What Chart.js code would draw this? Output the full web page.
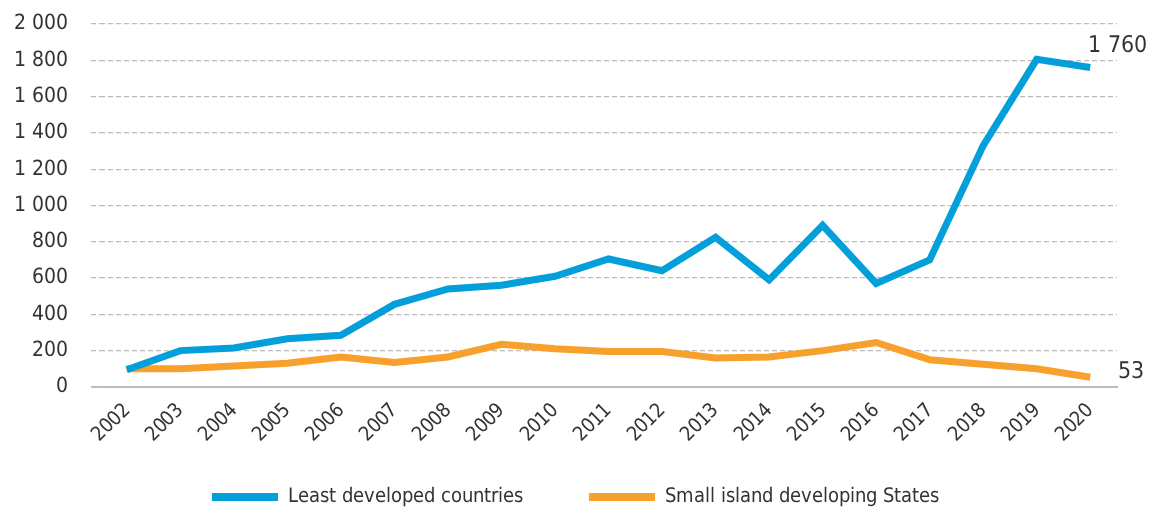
<!DOCTYPE html>
<html><head><meta charset="utf-8">
<script src="https://cdn.jsdelivr.net/npm/chart.js"></script>
<style>
@font-face{font-family:'CondX';src:local('Liberation Sans Narrow'),local('LiberationSansNarrow-Regular'),local('DejaVu Sans Condensed'),local('DejaVuSansCondensed');}
html,body{margin:0;padding:0;background:#fff}#wrap{width:1151px;height:511px}
</style>
</head><body><div id="wrap"><canvas id="c"></canvas></div>
<script>
const years = ["2002","2003","2004","2005","2006","2007","2008","2009","2010","2011","2012","2013","2014","2015","2016","2017","2018","2019","2020"];
const ldc = [95,200,215,265,285,455,540,560,610,705,640,825,590,890,570,700,1330,1805,1760];
const sids = [100,100,115,130,165,135,165,235,210,195,195,160,165,200,245,150,125,100,53];
const yTicks = [0,200,400,600,800,1000,1200,1400,1600,1800,2000];
const FONT = "CondX, sans-serif";
const fmt = v => String(v).replace(/\B(?=(\d{3})+(?!\d))/g, " ");
const endLabels = {
  id:'endLabels',
  afterLayout(chart){
    if (chart.legend) { chart.legend.top += 6; chart.legend.bottom += 6; }
  },
  afterDatasetsDraw(chart){
    const ctx = chart.ctx;
    ctx.save();
    const x = chart.scales.x, y = chart.scales.y;
    ctx.strokeStyle = '#bbb'; ctx.lineWidth = 2;
    const yb = y.getPixelForValue(0);
    ctx.beginPath(); ctx.moveTo(chart.chartArea.left - 9, yb); ctx.lineTo(chart.chartArea.left, yb); ctx.stroke();
    ctx.font = "23px " + FONT;
    ctx.fillStyle = "#333";
    ctx.textBaseline = "middle";
    const last = years.length-1;
    ctx.textAlign = "left";
    ctx.fillText(fmt(ldc[last]), x.getPixelForValue(last) - 2, y.getPixelForValue(ldc[last]) - 22);
    ctx.fillText(fmt(sids[last]), x.getPixelForValue(last) + 28, y.getPixelForValue(sids[last]) - 5);
    ctx.restore();
  }
};
function draw(){
new Chart(document.getElementById('c'), {
  type:'line',
  data:{labels:years, datasets:[
    {label:'Least developed countries', data:ldc, borderColor:'#039fda', backgroundColor:'#039fda', borderWidth:7, pointRadius:0, tension:0},
    {label:'Small island developing States', data:sids, borderColor:'#f7a02b', backgroundColor:'#f7a02b', borderWidth:7, pointRadius:0, tension:0}
  ]},
  options:{
    responsive:true, maintainAspectRatio:false, animation:false,
    layout:{padding:{top:6,right:0,left:0,bottom:0}},
    plugins:{
      legend:{position:'bottom', labels:{boxWidth:66, boxHeight:8, font:{family:FONT,size:20}, color:'#333', padding:30,
        generateLabels(chart){
          return chart.data.datasets.map((ds,i)=>({
            text: ds.label + (i===0 ? "\u00a0\u00a0\u00a0\u00a0\u00a0\u00a0" : ""),
            fillStyle: ds.backgroundColor, strokeStyle: ds.backgroundColor, lineWidth:0,
            fontColor:'#333', hidden:false, datasetIndex:i
          }));
        }}},
      tooltip:{enabled:false}
    },
    scales:{
      x:{offset:true, grid:{display:false}, border:{display:true,color:'#bbb',width:2},
         ticks:{maxRotation:45,minRotation:45,color:'#333',font:{family:FONT,size:20}, padding:4}},
      y:{min:0,max:2000, afterBuildTicks(s){s.ticks=yTicks.map(v=>({value:v}));},
         afterFit(s){ s.width = 100; s.paddingTop = 24; },
         border:{display:false, dash:[5,3]},
         grid:{color:'#bbb', lineWidth:1.2, drawTicks:true, tickLength:9, tickBorderDash:[5,3], tickColor:'#bbb'},
         ticks:{color:'#333',font:{family:FONT,size:21},padding:23, callback:v=>fmt(v)}},
      yR:{position:'right', display:true, grid:{display:false}, border:{display:false}, ticks:{display:false},
          afterFit(s){ s.width = 34; }}
    }
  },
  plugins:[endLabels]
});
}
document.fonts.load("20px CondX").then(draw, draw);
</script></body></html>
